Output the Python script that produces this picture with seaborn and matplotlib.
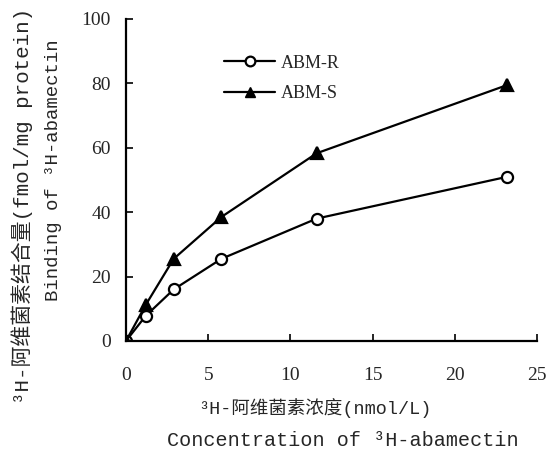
import matplotlib
matplotlib.use("Agg")
import matplotlib.pyplot as plt
import seaborn as sns
import pandas as pd
from matplotlib.lines import Line2D

conc = [0, 1.2, 2.9, 5.8, 11.6, 23.2]
abm_r = [0, 7.8, 16.0, 25.5, 38.0, 51.0]
abm_s = [0, 11.2, 25.5, 38.5, 58.3, 79.5]
series_names = ["ABM-R", "ABM-S"]
x_ticks = [0, 5, 10, 15, 20, 25]
y_ticks = [0, 20, 40, 60, 80, 100]

df = pd.DataFrame({
    "conc": conc * 2,
    "value": abm_r + abm_s,
    "series": [series_names[0]] * len(conc) + [series_names[1]] * len(conc),
})

sns.set_style("ticks")
plt.rcParams['font.family'] = ['Liberation Serif', 'Noto Sans CJK SC']

fig = plt.figure(figsize=(5.6, 4.51), dpi=100)
ax = fig.add_axes([0.225, 0.244, 0.734, 0.714])

sns.lineplot(data=df, x="conc", y="value", hue="series", style="series",
             markers={"ABM-R": "o", "ABM-S": "^"}, dashes=False,
             palette={"ABM-R": "black", "ABM-S": "black"},
             linewidth=1.6, markersize=8, ax=ax, legend=False)
for line, fc in zip(ax.lines, ["white", "black"]):
    line.set_markerfacecolor(fc)
    line.set_markeredgecolor("black")
    line.set_markeredgewidth(1.6)

handles = [Line2D([], [], color="black", lw=1.6, marker="o", markersize=7,
                  markerfacecolor="white", markeredgewidth=1.6),
           Line2D([], [], color="black", lw=1.6, marker="^", markersize=7,
                  markerfacecolor="black")]
ax.legend(handles, series_names, loc="upper left", bbox_to_anchor=(0.2, 0.94),
          frameon=False, fontsize=13, handlelength=2.8, handletextpad=0.3,
          labelspacing=0.75)

ax.set_xlim(0, 25)
ax.set_ylim(0, 100)
ax.set_xticks(x_ticks)
ax.set_yticks(y_ticks)
ax.tick_params(direction="in", length=5, width=1.2, labelsize=14, color="black")
ax.tick_params(axis="x", pad=19)
ax.tick_params(axis="y", pad=11)
for s in ["left", "bottom"]:
    ax.spines[s].set_linewidth(1.6)
    ax.spines[s].set_color("black")
sns.despine(ax=ax)

ax.set_xlabel("")
ax.set_ylabel("")
lab_fam = ['Liberation Mono', 'Noto Sans CJK SC']
fig.text(0.5625, 0.095, "³H-阿维菌素浓度(nmol/L)", ha="center", va="center",
         fontsize=13.3, family=lab_fam)
fig.text(0.6125, 0.024, "Concentration of ³H-abamectin", ha="center", va="center",
         fontsize=14.5, family=lab_fam)
fig.text(0.039, 0.543, "³H-阿维菌素结合量(fmol/mg protein)", ha="center", va="center",
         rotation=90, fontsize=15, family=lab_fam)
fig.text(0.095, 0.623, "Binding of ³H-abamectin", ha="center", va="center",
         rotation=90, fontsize=13.7, family=lab_fam)

fig.savefig("out.png", dpi=100)
